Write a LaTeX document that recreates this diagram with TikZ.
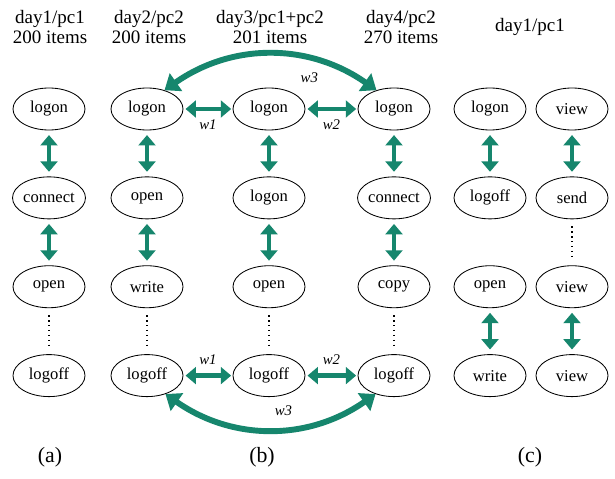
\documentclass[tikz,border=0pt]{standalone}
\usepackage{fontspec}
\setmainfont{Liberation Serif}
\usetikzlibrary{arrows.meta,positioning,shapes.geometric}
\definecolor{linkgreen}{RGB}{22,134,109}

\begin{document}
\begin{tikzpicture}[
  x=0.025cm, y=-0.025cm, node distance=1.15cm,
  ev/.style={draw, ellipse, line width=0.6pt, font=\fontsize{11.8}{13}\selectfont,
             minimum width=1.8cm, minimum height=1.05cm, inner sep=0pt},
  head/.style={align=center, font=\fontsize{13.5}{14.4}\selectfont},
  tag/.style={font=\fontsize{15.5}{18}\selectfont},
  lnk/.style={{Triangle[length=7.4pt,width=12pt]}-{Triangle[length=7.4pt,width=12pt]},
              line width=3.2pt, linkgreen},
  vlnk/.style={lnk, shorten >=3.3pt, shorten <=3.3pt},
  hlnk/.style={lnk, shorten >=1pt, shorten <=1.5pt},
  arc/.style={{Triangle[length=10pt,width=15pt]}-{Triangle[length=10pt,width=15pt]},
              line width=4.2pt, linkgreen},
  dots/.style={dash pattern=on 1pt off 2.5pt, line width=1pt, shorten >=5pt, shorten <=5pt},
  wlab/.style={font=\fontsize{10.5}{12}\selectfont\itshape, text=black}
]
\useasboundingbox (0,0) rectangle (615,478);

% headings
\node[head] (hA) at (50,27) {day1/pc1\\200 items};
\node[head] (hB) at (149,27) {day2/pc2\\200 items};
\node[head] (hC) at (270,27) {day3/pc1+pc2\\201 items};
\node[head] (hD) at (401,27) {day4/pc2\\270 items};
\node[head] (hE) at (530,27) {day1/pc1};

% (a)
\node[ev] (A1) at (49,109) {logon};
\node[ev, below=of A1] (A2) {connect};
\node[ev, below=of A2] (A3) {open};
\node[ev, below=of A3] (A4) {logoff};

% (b)
\node[ev] (B1) at (147,109) {logon};
\node[ev, below=of B1] (B2) {open};
\node[ev, below=of B2] (B3) {write};
\node[ev, below=of B3] (B4) {logoff};
\node[ev] (C1) at (269,109) {logon};
\node[ev, below=of C1] (C2) {logon};
\node[ev, below=of C2] (C3) {open};
\node[ev, below=of C3] (C4) {logoff};
\node[ev] (D1) at (394,109) {logon};
\node[ev, below=of D1] (D2) {connect};
\node[ev, below=of D2] (D3) {copy};
\node[ev, below=of D3] (D4) {logoff};

% (c)
\node[ev] (E1) at (490,109) {logon};
\node[ev, below=of E1] (E2) {logoff};
\node[ev, below=of E2] (E3) {open};
\node[ev, below=of E3] (E4) {write};
\node[ev] (F1) at (572,109) {view};
\node[ev, below=of F1] (F2) {send};
\node[ev, below=of F2] (F3) {view};
\node[ev, below=of F3] (F4) {view};

% panel tags
\node[tag] (la) at (50,457) {(a)};
\node[tag] (lb) at (262,457) {(b)};
\node[tag] (lc) at (530,457) {(c)};

% vertical links
\draw[vlnk] (A1) -- (A2);
\draw[vlnk] (A2) -- (A3);
\draw[dots] (A3) -- (A4);
\draw[vlnk] (B1) -- (B2);
\draw[vlnk] (B2) -- (B3);
\draw[dots] (B3) -- (B4);
\draw[vlnk] (C1) -- (C2);
\draw[vlnk] (C2) -- (C3);
\draw[dots] (C3) -- (C4);
\draw[vlnk] (D1) -- (D2);
\draw[vlnk] (D2) -- (D3);
\draw[dots] (D3) -- (D4);
\draw[vlnk] (E1) -- (E2);
\draw[vlnk] (E3) -- (E4);
\draw[vlnk] (F1) -- (F2);
\draw[dots] (F2) -- (F3);
\draw[vlnk] (F3) -- (F4);

% windows between days
\draw[hlnk] (B1) -- node[wlab, below=3pt] {w1} (C1);
\draw[hlnk] (C1) -- node[wlab, below=3pt] {w2} (D1);
\draw[hlnk] (B4) -- node[wlab, above=3pt] {w1} (C4);
\draw[hlnk] (C4) -- node[wlab, above=3pt] {w2} (D4);
\draw[arc] (B1.47) to[bend left=35] node[wlab, below=4pt, pos=0.68] {w3} (D1.133);
\draw[arc] (B4.-45) to[bend right=35] node[wlab, above=4pt, pos=0.56] {w3} (D4.-135);
\end{tikzpicture}
\end{document}
